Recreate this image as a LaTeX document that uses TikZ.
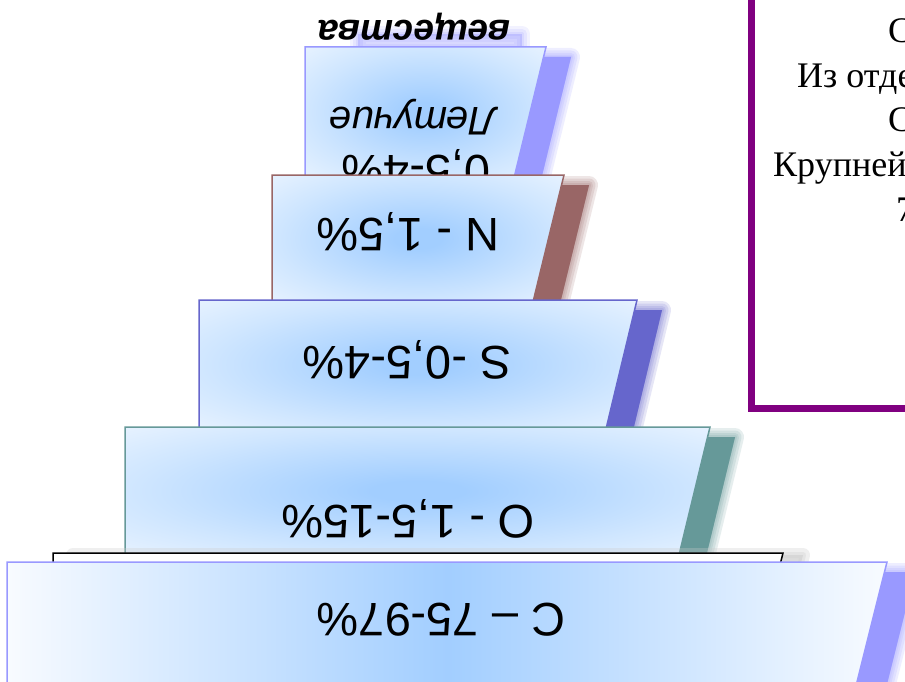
\documentclass[tikz,border=0pt]{standalone}
\usepackage{fontspec}
\setmainfont{Liberation Sans}
\newfontfamily\serifcyr{Liberation Serif}
\definecolor{gcen}{HTML}{A2CEFF}
\definecolor{gmid}{HTML}{CFE6FF}
\definecolor{gedge}{HTML}{F8FBFF}
\definecolor{clav}{HTML}{9999FF}
\definecolor{cteal}{HTML}{669999}
\definecolor{cslate}{HTML}{6666CC}
\definecolor{cbrown}{HTML}{996666}
\definecolor{cpurple}{HTML}{800080}
\pgfdeclareradialshading{boxglow}{\pgfpoint{0bp}{0bp}}{color(0bp)=(gcen); color(4bp)=(gcen); color(24bp)=(gmid); color(44bp)=(gedge); color(50bp)=(gedge)}
\tikzset{
  shl/.style 2 args={draw=#1, fill=#1, line width=#2, line join=round, opacity=0.16},
  boxR/.style={shade, shading=boxglow, draw=#1, line width=1.5pt},
  boxH/.style={shade, left color=gedge, right color=gedge, middle color=gcen, draw=#1, line width=1.5pt},
  lbl/.style={rotate=180, inner sep=0pt, font=\fontsize{47}{56}\selectfont},
  lblit/.style={rotate=180, inner sep=0pt, font=\fontsize{40}{48}\selectfont\itshape},
  lblbit/.style={rotate=180, inner sep=0pt, font=\fontsize{37}{45}\selectfont\bfseries\itshape},
  rtx/.style={anchor=base west, inner sep=0pt, font=\serifcyr\fontsize{36}{43}\selectfont}
}
\newcommand\blurshadow[2]{%
  \path[shl={#1}{18pt}] #2;
  \path[shl={#1}{13pt}] #2;
  \path[shl={#1}{8pt}] #2;
  \path[shl={#1}{4pt}] #2;
  \path[fill=#1] #2;}
\begin{document}
\begin{tikzpicture}[x=1pt, y=-1pt]
\useasboundingbox (0,0) rectangle (905,682);
\clip (0,0) rectangle (905,682);
\fill[white] (0,0) rectangle (905,682);

% haze above the top box
\path[shl={clav}{16pt}, opacity=0.12] (358,34) rectangle (522,52);
\path[shl={clav}{10pt}, opacity=0.14] (358,34) rectangle (522,52);
\path[shl={clav}{4pt}, opacity=0.16] (358,34) rectangle (522,52);

% top box (volatile substances)
\blurshadow{clav}{(330,57) -- (571,57) -- (539,188) -- (330,188) -- cycle}
\path[boxR=clav] (305,47) -- (546,47) -- (514,178) -- (305,178) -- cycle;
\node[lblbit] (tw3) at (414,27) {вещества};
\node[lblit] (tw2) at (413,117) {Летучие};
\node[lbl] (tw1) at (416,169) {0,5-4\%};

% N box
\blurshadow{cbrown}{(297,185) -- (589,185) -- (558,312) -- (297,312) -- cycle}
\path[boxR=cbrown] (272,175) -- (564,175) -- (533,302) -- (272,302) -- cycle;
\node[lbl] (tn) at (408,232) {N - 1,5\%};

% S box
\blurshadow{cslate}{(224,310) -- (662,310) -- (631,439) -- (224,439) -- cycle}
\path[boxR=cslate] (199,300) -- (637,300) -- (606,429) -- (199,429) -- cycle;
\node[lbl] (ts) at (407,360) {S -0,5-4\%};

% O box
\blurshadow{cteal}{(150,437) -- (735,437) -- (704,565) -- (150,565) -- cycle}
\path[boxR=cteal] (125,427) -- (710,427) -- (679,555) -- (125,555) -- cycle;
\node[lbl] (to) at (408,519) {O - 1,5-15\%};

% black outlined box behind C
\path[shl={black!20}{14pt}, opacity=0.3] (73,555) -- (803,555) -- (791,602) -- (73,602) -- cycle;
\path[shl={black!20}{6pt}, opacity=0.3] (73,555) -- (803,555) -- (791,602) -- (73,602) -- cycle;
\path[draw=black, fill=white, line width=1.5pt] (53,553) -- (783,553) -- (771,600) -- (53,600) -- cycle;

% C box
\blurshadow{clav}{(35,572) -- (915,572) -- (883,700) -- (35,700) -- cycle}
\path[boxH=clav] (7,562) -- (887,562) -- (855,690) -- (7,690) -- cycle;
\node[lbl] (tc) at (441,620) {C – 75-97\%};

% right text frame
\draw[cpurple, line width=7pt] (751,-20) rectangle (930,408);
\node[rtx] (r1) at (888,43) {С};
\node[rtx] (r2) at (797,87.5) {Из отде};
\node[rtx] (r3) at (888,132) {С};
\node[rtx] (r4) at (773,176.5) {Крупней};
\node[rtx] (r5) at (896,221) {7};
\end{tikzpicture}
\end{document}
